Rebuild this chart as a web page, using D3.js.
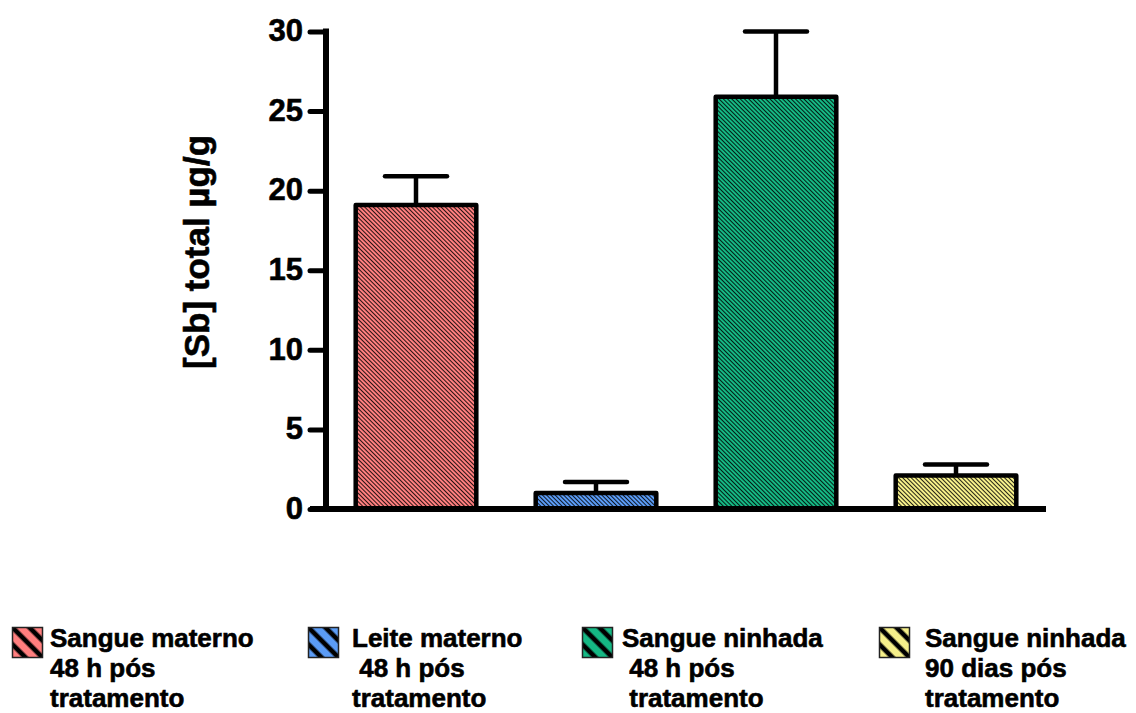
<!DOCTYPE html>
<html>
<head>
<meta charset="utf-8">
<script src="https://cdn.jsdelivr.net/npm/d3@7"></script>
<style>
  html, body { margin: 0; padding: 0; background: #fff; }
  svg { display: block; font-family: "Liberation Sans", Arial, sans-serif; font-weight: bold; }
  .txt { fill: #000; stroke: #000; stroke-width: 0.6; paint-order: stroke; }
</style>
</head>
<body>
<svg id="chart" width="1136" height="713"></svg>
<script>
// Antimony concentration by sample group
const groups = ["sm48", "lm48", "sn48", "sn90"];
const means = [19.1, 1.0, 25.9, 2.1];
const errors = [1.8, 0.7, 4.1, 0.7];
const colors = ["#ff7f7f", "#5b9cf6", "#15b884", "#f6f08a"];
const legendLines = [
  ["Sangue materno", "48 h pós", "tratamento"],
  ["Leite materno", " 48 h pós", "tratamento"],
  ["Sangue ninhada", " 48 h pós", " tratamento"],
  ["Sangue ninhada", "90 dias pós", "tratamento"]
];
const yTicks = [0, 5, 10, 15, 20, 25, 30];
const yTitle = "[Sb] total µg/g";

const svg = d3.select("#chart");
const plot = { left: 326, right: 1046, top: 31.5, bottom: 509 };

const x = d3.scaleBand().domain(groups).range([plot.left, plot.right]).paddingInner(0.33).paddingOuter(0.165);
const y = d3.scaleLinear().domain([0, 30]).range([plot.bottom, plot.top]);

// Hatch patterns: fine for bars, coarse for legend swatches
const defs = svg.append("defs");
const sp = 12, sw = 2.4;
groups.forEach((g, i) => {
  const fine = defs.append("pattern")
    .attr("id", "hatch-" + g)
    .attr("patternUnits", "userSpaceOnUse")
    .attr("width", 3).attr("height", 3)
    .attr("patternTransform", "rotate(-45)");
  fine.append("rect").attr("width", 3).attr("height", 3).attr("fill", colors[i]);
  fine.append("line").attr("x1", 0.5).attr("y1", 0).attr("x2", 0.5).attr("y2", 3)
    .attr("stroke", "#000").attr("stroke-width", 0.85);

  const coarse = defs.append("pattern")
    .attr("id", "swatch-" + g)
    .attr("patternUnits", "userSpaceOnUse")
    .attr("width", sp).attr("height", sp)
    .attr("patternTransform", "rotate(-45)");
  coarse.append("rect").attr("width", sp).attr("height", sp).attr("fill", colors[i]);
  coarse.append("rect").attr("x", 0).attr("width", sw).attr("height", sp).attr("fill", "#000");
  coarse.append("rect").attr("x", sp - sw).attr("width", sw).attr("height", sp).attr("fill", "#000");
});

// Error bars (upper half only)
const capHalf = 31;
const eb = svg.append("g").attr("stroke", "#000").attr("stroke-width", 4.5).attr("stroke-linecap", "round");
groups.forEach((g, i) => {
  const cx = x(g) + x.bandwidth() / 2;
  eb.append("line").attr("x1", cx).attr("x2", cx).attr("y1", y(means[i])).attr("y2", y(means[i] + errors[i])).attr("stroke-linecap", "butt");
  eb.append("line").attr("x1", cx - capHalf).attr("x2", cx + capHalf).attr("y1", y(means[i] + errors[i])).attr("y2", y(means[i] + errors[i]));
});

// Bars
svg.append("g").selectAll("rect").data(groups).join("rect")
  .attr("x", d => x(d))
  .attr("y", (d, i) => y(means[i]))
  .attr("width", x.bandwidth())
  .attr("height", (d, i) => y(0) - y(means[i]))
  .attr("fill", d => "url(#hatch-" + d + ")")
  .attr("stroke", "#000")
  .attr("stroke-width", 4.5)
  .attr("stroke-linejoin", "round");

// Y axis
const yAxis = svg.append("g").attr("transform", `translate(${plot.left},0)`)
  .call(d3.axisLeft(y).tickValues(yTicks).tickSize(16).tickPadding(7).tickFormat(d3.format("d")));
yAxis.select(".domain").attr("d", `M0,${plot.top - 3}V${plot.bottom}`).attr("stroke-width", 6).attr("stroke", "#000");
yAxis.selectAll(".tick line").attr("stroke-width", 5).attr("stroke", "#000").attr("stroke-linecap", "round");
yAxis.selectAll(".tick text")
  .attr("class", "txt")
  .attr("font-size", 31).attr("font-weight", "bold")
  .attr("font-family", "'Liberation Sans', Arial, sans-serif")
  .attr("dy", "0.3em");

// X axis baseline
svg.append("line")
  .attr("x1", plot.left - 16).attr("x2", plot.right)
  .attr("y1", plot.bottom).attr("y2", plot.bottom)
  .attr("stroke", "#000").attr("stroke-width", 6);

// Y title
svg.append("text")
  .attr("class", "txt")
  .attr("transform", `translate(209,252) rotate(-90)`)
  .attr("text-anchor", "middle")
  .attr("font-size", 35)
  .text(yTitle);

// Legend
const swatchX = [12, 308, 582, 879];
const labelX = [50, 352, 622, 925];
const legend = svg.append("g");
groups.forEach((g, i) => {
  const item = legend.append("g").attr("transform", `translate(${swatchX[i]},627)`);
  item.append("rect").attr("x", 0.5).attr("y", 0.5).attr("width", 30).attr("height", 30)
    .attr("fill", "url(#swatch-" + g + ")")
    .attr("stroke", "#222").attr("stroke-width", 1.5);
  const dx = labelX[i] - swatchX[i];
  const t = item.append("text").attr("class", "txt").attr("x", dx).attr("y", 20).attr("font-size", 26)
    .attr("xml:space", "preserve").style("white-space", "pre");
  legendLines[i].forEach((ln, k) => {
    t.append("tspan").attr("x", dx).attr("y", 20 + k * 30).text(ln);
  });
});
</script>
</body>
</html>
